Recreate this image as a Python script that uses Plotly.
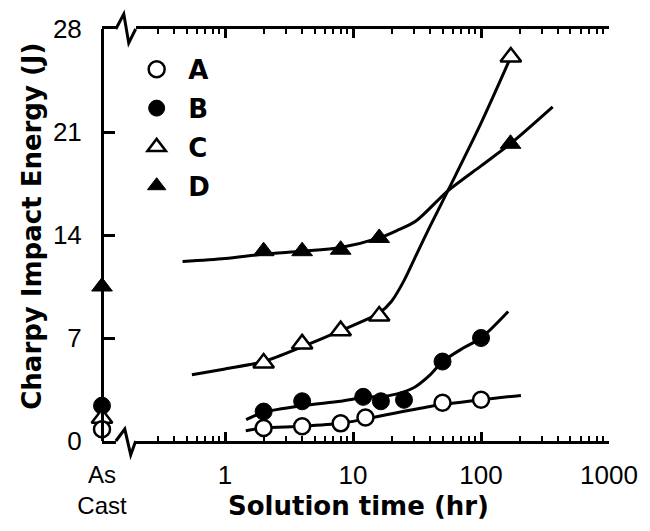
import math
import plotly.graph_objects as go

# ---------------- data ----------------
# Solution-treated samples: solution time (hr) vs Charpy impact energy (J)
A_time = [2, 4, 8, 12.5, 50, 100]
A_energy = [0.88, 1.0, 1.2, 1.6, 2.6, 2.8]
B_time = [2, 4, 12, 16.5, 25, 50, 100]
B_energy = [2.0, 2.7, 3.0, 2.7, 2.8, 5.4, 7.0]
C_time = [2, 4, 8, 16, 171]
C_energy = [5.3, 6.6, 7.5, 8.5, 26.1]
D_time = [2, 4, 8, 16, 170]
D_energy = [12.9, 12.9, 13.0, 13.8, 20.2]

# As-cast values
as_cast_label = "As Cast"
A_cast = [0.8]
B_cast = [2.4]
C_cast = [1.55]
D_cast = [10.5]

# Hand-drawn trend curves (anchor points)
A_fit_time = [1.45, 2, 4, 8, 12.5, 40, 100, 205]
A_fit_energy = [0.7, 0.88, 1.0, 1.2, 1.5, 2.35, 2.8, 3.1]
B_fit_time = [1.46, 2, 4, 8, 12, 19.5, 29.5, 40, 50, 72, 100, 163]
B_fit_energy = [1.45, 1.95, 2.4, 2.7, 2.95, 3.1, 3.6, 4.5, 5.4, 6.3, 7.0, 8.8]
C_fit_time = [0.55, 1, 2, 4, 8, 16, 20, 25, 31, 40, 55, 100, 171]
C_fit_energy = [4.5, 4.9, 5.4, 6.4, 7.5, 8.7, 9.5, 10.9, 12.6, 14.6, 17.0, 21.6, 26.1]
D_fit_time = [0.465, 1, 2, 4, 8, 16, 22, 31, 55, 100, 170, 363]
D_fit_energy = [12.2, 12.4, 12.7, 12.9, 13.15, 13.8, 14.3, 14.95, 17.0, 18.7, 20.2, 22.7]

series_names = ["A", "B", "C", "D"]
y_ticks = [0, 7, 14, 21, 28]

# ---------------- layout geometry ----------------
W, H = 650, 531
PX_L, PX_R, PX_T, PX_B = 102, 614, 29, 443
pw, ph = PX_R - PX_L, PX_B - PX_T


def px(x):
    return (x - PX_L) / pw


def py(y):
    return (PX_B - y) / ph


brk_l, brk_r = px(116), px(136)

TICK_FONT = dict(family="Liberation Sans, Arial, sans-serif", size=26, color="black")
BOLD_FONT = dict(family="DejaVu Sans, sans-serif", size=26, color="black", weight="bold")

fig = go.Figure()

fits = [(A_fit_time, A_fit_energy), (B_fit_time, B_fit_energy),
        (C_fit_time, C_fit_energy), (D_fit_time, D_fit_energy)]
for t, e in fits:
    fig.add_trace(go.Scatter(
        x=t, y=e, mode="lines", xaxis="x2", yaxis="y",
        line=dict(color="black", width=3, shape="spline", smoothing=0.8),
        showlegend=False, hoverinfo="skip"))

styles = {
    "A": dict(symbol="circle", size=16, color="white", line=dict(color="black", width=2.5)),
    "B": dict(symbol="circle", size=17, color="black", line=dict(color="black", width=1)),
    "C": dict(symbol="triangle-up", size=18, color="white", line=dict(color="black", width=2.5)),
    "D": dict(symbol="triangle-up", size=18, color="black", line=dict(color="black", width=1)),
}
data = {"A": (A_time, A_energy, A_cast), "B": (B_time, B_energy, B_cast),
        "C": (C_time, C_energy, C_cast), "D": (D_time, D_energy, D_cast)}

# as-cast points (drawn D, B, C, A so A is on top)
for name in ["D", "B", "C", "A"]:
    fig.add_trace(go.Scatter(
        x=[as_cast_label], y=data[name][2], mode="markers", xaxis="x", yaxis="y",
        marker=styles[name], cliponaxis=False, showlegend=False, name=name))

for name in series_names:
    t, e, _ = data[name]
    fig.add_trace(go.Scatter(
        x=t, y=e, mode="markers", xaxis="x2", yaxis="y",
        marker=styles[name], cliponaxis=False, name="\u00a0\u200a" + name,
        legendgroup=name))

# axis-break zigzags
shapes = []
top_zig = [(116, 29), (124, 14), (129, 43), (136, 29)]
bot_zig = [(116, 443), (125, 431), (131, 457), (136, 443)]
for zig in (top_zig, bot_zig):
    path = "M " + " L ".join(f"{px(x):.5f},{py(y):.5f}" for x, y in zig)
    shapes.append(dict(type="path", path=path, xref="paper", yref="paper",
                       line=dict(color="black", width=3)))

fig.update_layout(
    width=W, height=H,
    margin=dict(l=PX_L, r=W - PX_R, t=PX_T, b=H - PX_B, pad=0),
    plot_bgcolor="white", paper_bgcolor="white",
    showlegend=True,
    legend=dict(x=px(137), y=py(46), xanchor="left", yanchor="top",
                font=BOLD_FONT, bgcolor="rgba(0,0,0,0)",
                traceorder="grouped", tracegroupgap=2, itemsizing="trace"),
    xaxis=dict(domain=[0, brk_l], type="category", range=[0, 1], anchor="y",
               showline=True, mirror=True, linecolor="black", linewidth=3,
               ticks="", tickvals=[as_cast_label], ticktext=["As<br>Cast"],
               tickfont=dict(family="Liberation Sans, Arial, sans-serif", size=24, color="black"),
               ticklabelstandoff=10, showgrid=False, zeroline=False),
    xaxis2=dict(domain=[brk_r, 1], type="log", range=[math.log10(0.2), 3], anchor="y",
                showline=True, mirror="allticks", linecolor="black", linewidth=3,
                ticks="inside", ticklen=9, tickwidth=2.5, tickcolor="black",
                tickmode="linear", tick0=0, dtick=1, exponentformat="none",
                minor=dict(ticks="inside", ticklen=5, tickwidth=2, tickcolor="black",
                           dtick="D1", showgrid=False),
                tickfont=TICK_FONT, ticklabelstandoff=9,
                showgrid=False, zeroline=False),
    yaxis=dict(anchor="free", position=0, range=[0, 28], tickvals=y_ticks,
               showline=True, linecolor="black", linewidth=3,
               ticks="inside", ticklen=11, tickwidth=2.5, tickcolor="black",
               tickfont=TICK_FONT, ticklabelstandoff=14,
               showgrid=False, zeroline=False),
    yaxis3=dict(overlaying="y", side="right", anchor="x2", range=[0, 28],
                tickvals=[7, 14, 21], showticklabels=False,
                showline=True, linecolor="black", linewidth=3,
                ticks="inside", ticklen=10, tickwidth=2.5, tickcolor="black",
                showgrid=False, zeroline=False),
    shapes=shapes,
    annotations=[
        dict(text="Solution time (hr)", x=px(361), y=py(508), xref="paper", yref="paper",
             xanchor="center", yanchor="middle", showarrow=False, font=BOLD_FONT),
        dict(text="Charpy Impact Energy (J)", x=px(31), y=py(227), xref="paper", yref="paper",
             xanchor="center", yanchor="middle", showarrow=False, textangle=-90, font=BOLD_FONT),
    ],
)

fig.write_html(
    "out.html",
    config={"displayModeBar": False},
    post_script="document.body.style.margin='0';document.body.style.overflow='hidden';",
)
